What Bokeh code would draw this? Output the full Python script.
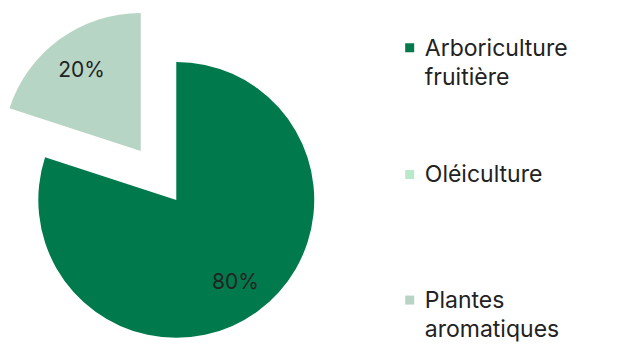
import numpy as np
from bokeh.plotting import figure
from bokeh.models import Range1d
from bokeh.core.properties import value
from bokeh.embed import file_html
from bokeh.resources import INLINE

# ---- data ----
categories = ["Arboriculture fruitière", "Oléiculture", "Plantes aromatiques"]
legend_lines = [["Arboriculture", "fruitière"], ["Oléiculture"], ["Plantes", "aromatiques"]]
values = [80, 0, 20]
colors = ["#007A4D", "#B9E8CA", "#B7D5C4"]
explode = [0, 0, 64]

FONT = "Inter"
W, H = 625, 347
p = figure(width=W, height=H, output_backend="svg", toolbar_location=None,
           x_range=Range1d(0, W), y_range=Range1d(363 - H, 363),
           min_border=0)
p.axis.visible = False
p.grid.visible = False
p.outline_line_color = None

# layout in reference pixels (y flipped: data y = 363 - screen y), scaled to fit
s = 0.945
def sx(x): return x * s
def sy(y): return 363 - y * s

cx, cy, r = sx(186.0), sy(211.0), 146.0 * s
total = float(sum(values))
frac = np.array(values) / total
cum = np.concatenate([[0], np.cumsum(frac)])
for i, v in enumerate(values):
    if v == 0:
        continue
    a_start = np.pi / 2 - 2 * np.pi * cum[i + 1]
    a_end = np.pi / 2 - 2 * np.pi * cum[i]
    mid = (a_start + a_end) / 2
    ox = cx + explode[i] * s * np.cos(mid)
    oy = cy + explode[i] * s * np.sin(mid)
    p.wedge(x=[ox], y=[oy], radius=r, start_angle=[a_start], end_angle=[a_end],
            fill_color=colors[i], line_color=None)
    lr = 0.73 * r
    p.text(x=[ox + lr * np.cos(mid)], y=[oy + lr * np.sin(mid)], text=[f"{v}%"],
           text_align="center", text_baseline="middle", text_font=value(FONT),
           text_font_size="21px", text_color="#222222")

# legend
sq_x = sx(433)
tx = sx(449)
first_y = [sy(50), sy(184), sy(317)]
line_h = 31 * s
for i, lines in enumerate(legend_lines):
    y0 = first_y[i]
    p.scatter(x=[sq_x], y=[y0], marker="square", size=9, fill_color=colors[i], line_color=None)
    for j, ln in enumerate(lines):
        p.text(x=[tx], y=[y0 - j * line_h], text=[ln], text_align="left",
               text_baseline="middle", text_font=value(FONT),
               text_font_size="23px", text_color="#222222")

open("out.html", "w").write(file_html(p, INLINE))
